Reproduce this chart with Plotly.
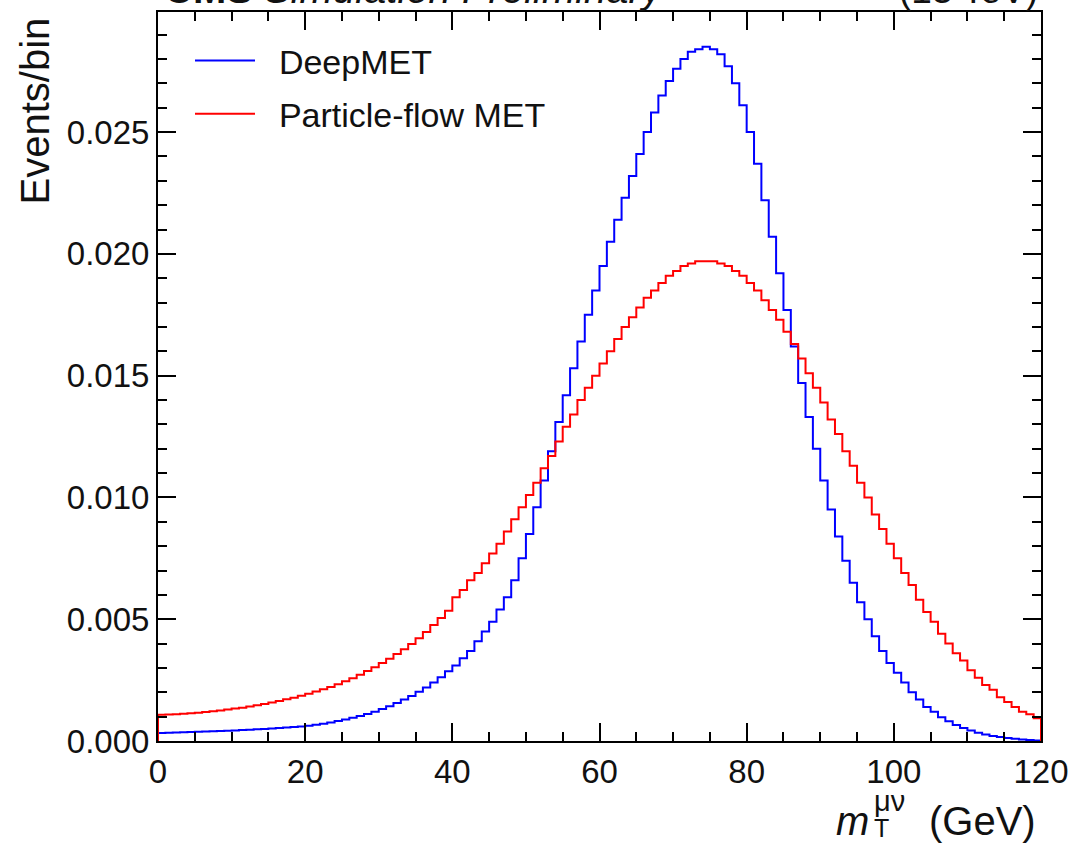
import plotly.graph_objects as go

# bin edges: 0..120 GeV, 1 GeV bins
bin_lo = list(range(0, 120))
x_max = 120

deepmet = [
    0.00033, 0.00034, 0.00035, 0.00036, 0.00037, 0.00038, 0.00039, 0.00040, 0.00041, 0.00042,
    0.00043, 0.00045, 0.00046, 0.00048, 0.00049, 0.00051, 0.00053, 0.00055, 0.00057, 0.00060,
    0.00063, 0.00067, 0.00071, 0.00076, 0.00082, 0.00088, 0.00095, 0.00103, 0.00111, 0.00120,
    0.00131, 0.00143, 0.00156, 0.00170, 0.00185, 0.00202, 0.00220, 0.00240, 0.00262, 0.00286,
    0.0031, 0.0034, 0.0037, 0.0041, 0.0045, 0.0049, 0.0054, 0.0059, 0.0066, 0.0075,
    0.0085, 0.0096, 0.0107, 0.0119, 0.0131, 0.0142, 0.0153, 0.0164, 0.0175, 0.0185,
    0.0195, 0.0205, 0.0214, 0.0223, 0.0232, 0.0241, 0.0250, 0.0258, 0.0265, 0.0271,
    0.0276, 0.0280, 0.0283, 0.0284, 0.0285, 0.0284, 0.0282, 0.0277, 0.0270, 0.0261,
    0.0250, 0.0237, 0.0222, 0.0207, 0.0192, 0.0177, 0.0162, 0.0147, 0.0133, 0.0120,
    0.0107, 0.0095, 0.0084, 0.0074, 0.0065, 0.0057, 0.0050, 0.0043, 0.0037, 0.0032,
    0.0028, 0.0024, 0.0020, 0.0017, 0.0014, 0.0012, 0.00098, 0.00081, 0.00066, 0.00053,
    0.00043, 0.00034, 0.00027, 0.00021, 0.00016, 0.00012, 0.00009, 0.00006, 0.00004, 0.00002,
]

pfmet = [
    0.00108, 0.00109, 0.00110, 0.00112, 0.00114, 0.00116, 0.00119, 0.00122, 0.00125, 0.00129,
    0.00133, 0.00137, 0.00142, 0.00147, 0.00152, 0.00158, 0.00164, 0.00171, 0.00178, 0.00186,
    0.00194, 0.00203, 0.00212, 0.00222, 0.00233, 0.00245, 0.00258, 0.00272, 0.00287, 0.00303,
    0.00320, 0.00338, 0.00357, 0.00377, 0.00398, 0.00422, 0.00448, 0.00476, 0.00505, 0.00535,
    0.0059, 0.0062, 0.0066, 0.0069, 0.0073, 0.0077, 0.0081, 0.0086, 0.0091, 0.0096,
    0.0101, 0.0106, 0.0112, 0.0117, 0.0123, 0.0129, 0.0134, 0.0140, 0.0145, 0.0150,
    0.0155, 0.0160, 0.0165, 0.0170, 0.0174, 0.0178, 0.0182, 0.0185, 0.0188, 0.0191,
    0.0193, 0.0195, 0.0196, 0.0197, 0.0197, 0.0197, 0.0196, 0.0195, 0.0193, 0.0191,
    0.0188, 0.0185, 0.0181, 0.0177, 0.0173, 0.0168, 0.0163, 0.0157, 0.0151, 0.0145,
    0.0139, 0.0132, 0.0126, 0.0119, 0.0113, 0.0106, 0.0100, 0.0093, 0.0087, 0.0081,
    0.0075, 0.0069, 0.0064, 0.0058, 0.0053, 0.0049, 0.0044, 0.0040, 0.0036, 0.0033,
    0.0029, 0.0026, 0.0023, 0.0021, 0.0018, 0.0016, 0.0014, 0.0012, 0.0011, 0.00093,
]

series_names = ["DeepMET", "Particle-flow MET"]
series_colors = ["#0000ff", "#ff0000"]

x_ticks = [0, 20, 40, 60, 80, 100, 120]
y_ticks = [0.000, 0.005, 0.010, 0.015, 0.020, 0.025]

FONT = "Liberation Sans, Arial, Helvetica, sans-serif"


def step_xy(vals):
    xs = [bin_lo[0]] + bin_lo + [x_max, x_max]
    ys = [0] + vals + [vals[-1], 0]
    return xs, ys


fig = go.Figure()
for vals, name, col in zip([deepmet, pfmet], series_names, series_colors):
    xs, ys = step_xy(vals)
    fig.add_trace(go.Scatter(
        x=xs, y=ys, mode="lines", line=dict(shape="hv", color=col, width=2),
        name="&nbsp;&nbsp;" + name, legendgroup=name, hoverinfo="skip",
    ))

W, H = 1073, 843
L, R, T, B = 158, 32, 12, 102
pw, ph = W - L - R, H - T - B

axis_common = dict(
    showline=True, linecolor="black", linewidth=2, mirror="allticks",
    ticks="inside", ticklen=18, tickwidth=2, tickcolor="black",
    showgrid=False, zeroline=False, automargin=False,
    tickfont=dict(family=FONT, size=33, color="#111"),
)

fig.update_xaxes(
    range=[0, 120], tickvals=x_ticks, ticktext=[str(v) for v in x_ticks],
    minor=dict(dtick=5, tick0=0, ticks="inside", ticklen=9, tickwidth=2, tickcolor="black", showgrid=False),
    **axis_common,
)
fig.update_yaxes(
    range=[0, 0.02993], tickvals=y_ticks, ticktext=[f"{v:.3f}" for v in y_ticks],
    minor=dict(dtick=0.001, tick0=0, ticks="inside", ticklen=9, tickwidth=2, tickcolor="black", showgrid=False),
    **axis_common,
)


def px_x(p):
    return (p - L) / pw


def px_y(p):
    return (H - B - p) / ph


annotations = [
    dict(text="Events/bin", textangle=-90, xref="paper", yref="paper",
         x=px_x(10), y=px_y(16), xanchor="left", yanchor="top", showarrow=False,
         font=dict(family=FONT, size=40, color="#111")),
    dict(text="(GeV)", xref="paper", yref="paper", x=px_x(1038), y=px_y(845),
         xanchor="right", yanchor="bottom", showarrow=False,
         font=dict(family=FONT, size=40, color="#111")),
    dict(text="<i>m</i>", xref="paper", yref="paper", x=px_x(871), y=px_y(845),
         xanchor="right", yanchor="bottom", showarrow=False,
         font=dict(family=FONT, size=40, color="#111")),
    dict(text="μν", xref="paper", yref="paper", x=px_x(873), y=px_y(818),
         xanchor="left", yanchor="bottom", showarrow=False, borderpad=0,
         font=dict(family=FONT, size=29, color="#111")),
    dict(text="T", xref="paper", yref="paper", x=px_x(873), y=px_y(843),
         xanchor="left", yanchor="bottom", showarrow=False, borderpad=0,
         font=dict(family=FONT, size=25, color="#111")),
    dict(text="<b>CMS</b> <i>Simulation Preliminary</i>", xref="paper", yref="paper",
         x=px_x(162), y=px_y(13), xanchor="left", yanchor="bottom", showarrow=False,
         font=dict(family=FONT, size=40, color="#111")),
    dict(text="(13 TeV)", xref="paper", yref="paper",
         x=px_x(1040), y=px_y(13), xanchor="right", yanchor="bottom", showarrow=False,
         font=dict(family=FONT, size=37, color="#111")),
]

fig.update_layout(
    width=W, height=H, margin=dict(l=L, r=R, t=T, b=B, autoexpand=False),
    plot_bgcolor="white", paper_bgcolor="white",
    font=dict(family=FONT, color="#111"),
    showlegend=True,
    legend=dict(
        x=px_x(190), y=px_y(32), xanchor="left", yanchor="top",
        bgcolor="rgba(0,0,0,0)", borderwidth=0,
        font=dict(family=FONT, size=34, color="#111"),
        traceorder="grouped", tracegroupgap=6, itemwidth=60,
    ),
    annotations=annotations,
)

fig.write_html("out.html")
